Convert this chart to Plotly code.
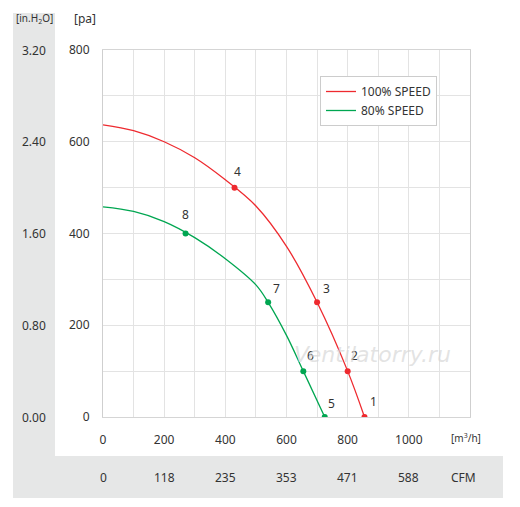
import plotly.graph_objects as go

# ---- data ----
red_curve_x = [0, 100, 200, 300, 400, 500, 600, 700, 800, 855]
red_curve_y = [637, 624, 600, 565, 517, 460, 372, 250, 100, 0]
green_curve_x = [0, 100, 200, 300, 400, 500, 540, 600, 655, 725]
green_curve_y = [458, 448, 426, 391, 345, 288, 250, 178, 100, 0]

red_pts_x = [855, 800, 700, 430]
red_pts_y = [0, 100, 250, 500]
red_labels = ["1", "2", "3", "4"]
green_pts_x = [725, 655, 540, 270]
green_pts_y = [0, 100, 250, 400]
green_labels = ["5", "6", "7", "8"]

pa_ticks = [0, 200, 400, 600, 800]
inh2o_labels = ["0.00", "0.80", "1.60", "2.40", "3.20"]
m3h_ticks = [0, 200, 400, 600, 800, 1000]
cfm_labels = ["0", "118", "235", "353", "471", "588"]

RED = "#ee2a2f"
GREEN = "#00a651"
TXT = "#333333"
FONT = "Noto Sans"

OFF = 8  # page body margin
W, H = 520 - OFF, 507 - OFF
PL, PR, PT, PB = 103, 470, 50, 417  # plot box in page pixels
L, T = PL - OFF, PT - OFF
R, B = W - (PR - OFF), H - (PB - OFF)
pw, ph = PR - PL, PB - PT


def px(xp):
    return (xp - PL) / pw


def py(yp):
    return (PB - yp) / ph


fig = go.Figure()
fig.add_trace(go.Scatter(x=red_curve_x, y=red_curve_y, mode="lines",
                         line=dict(color=RED, width=1.3, shape="spline", smoothing=1.0),
                         name="100% SPEED"))
fig.add_trace(go.Scatter(x=green_curve_x, y=green_curve_y, mode="lines",
                         line=dict(color=GREEN, width=1.3, shape="spline", smoothing=1.0),
                         name="80% SPEED"))
fig.add_trace(go.Scatter(x=red_pts_x, y=red_pts_y, mode="markers",
                         marker=dict(color=RED, size=6), showlegend=False))
fig.add_trace(go.Scatter(x=green_pts_x, y=green_pts_y, mode="markers",
                         marker=dict(color=GREEN, size=6), showlegend=False))

shifts = {"1": (9, 16), "2": (7, 16), "3": (9, 14), "4": (3, 16),
          "5": (7, 14), "6": (7, 16), "7": (8, 14), "8": (0, 19)}
C = dict(showarrow=False, xanchor="center", yanchor="middle")
ann = []
for xs, ys, labs in [(red_pts_x, red_pts_y, red_labels), (green_pts_x, green_pts_y, green_labels)]:
    for x, y, t in zip(xs, ys, labs):
        dx, dy = shifts[t]
        ann.append(dict(x=x, y=y, xref="x", yref="y", text=t, xshift=dx, yshift=dy,
                        font=dict(size=12, color=TXT, family=FONT), **C))

# secondary unit labels
for v, lab in zip(pa_ticks, inh2o_labels):
    ann.append(dict(x=px(34), y=v, xref="paper", yref="y", text=lab,
                    font=dict(size=12, color=TXT, family=FONT), **C))
for v, lab in zip(m3h_ticks, cfm_labels):
    ann.append(dict(x=v, y=py(477), xref="x", yref="paper", text=lab,
                    font=dict(size=12, color=TXT, family=FONT), **C))
ann.append(dict(x=px(463), y=py(477), xref="paper", yref="paper", text="CFM",
                font=dict(size=12, color=TXT, family=FONT), **C))
ann.append(dict(x=px(466), y=py(438), xref="paper", yref="paper", text="[m<sup>3</sup>/h]",
                font=dict(size=10, color=TXT, family=FONT), **C))
ann.append(dict(x=px(85), y=py(19), xref="paper", yref="paper", text="[pa]",
                font=dict(size=12, color=TXT, family=FONT), **C))
ann.append(dict(x=px(34), y=py(19), xref="paper", yref="paper", text="[in.H<sub>2</sub>O]",
                font=dict(size=10, color=TXT, family=FONT), **C))
ann.append(dict(x=px(372), y=py(354), xref="paper", yref="paper", text="<i>Ventilatorry.ru</i>",
                font=dict(size=22, color="rgba(215,215,215,0.7)", family="DejaVu Sans"), **C))

shapes = [
    dict(type="rect", xref="paper", yref="paper", x0=px(13), x1=px(55), y0=py(498), y1=py(13),
         fillcolor="#e6e7e7", line=dict(width=0), layer="below"),
    dict(type="rect", xref="paper", yref="paper", x0=px(13), x1=px(503), y0=py(498), y1=py(456),
         fillcolor="#e6e7e7", line=dict(width=0), layer="below"),
]

fig.update_layout(
    width=W, height=H, margin=dict(l=L, r=R, t=T, b=B, autoexpand=False),
    paper_bgcolor="white", plot_bgcolor="white",
    font=dict(family=FONT, size=12, color=TXT),
    annotations=ann, shapes=shapes,
    legend=dict(x=px(320), y=py(76), xanchor="left", yanchor="top",
                bordercolor="#cccccc", borderwidth=1, bgcolor="white",
                font=dict(size=12, color=TXT, family=FONT),
                tracegroupgap=0, itemwidth=30),
    xaxis=dict(range=[0, 1200], tickvals=m3h_ticks, ticktext=[str(v) for v in m3h_ticks],
               showgrid=True, gridcolor="#e3e3e3", gridwidth=1, zeroline=False,
               minor=dict(dtick=100, showgrid=True, gridcolor="#e3e3e3"),
               showline=True, linecolor="#d5d5d5", mirror=True, ticks="",
               ticklabelstandoff=12, fixedrange=True),
    yaxis=dict(range=[0, 800], tickvals=pa_ticks,
               showgrid=True, gridcolor="#e3e3e3", gridwidth=1, zeroline=False,
               minor=dict(dtick=100, showgrid=True, gridcolor="#e3e3e3"),
               showline=True, linecolor="#cfcfcf", mirror=True, ticks="",
               ticklabelstandoff=10, fixedrange=True),
)

fig.write_html("out.html")
